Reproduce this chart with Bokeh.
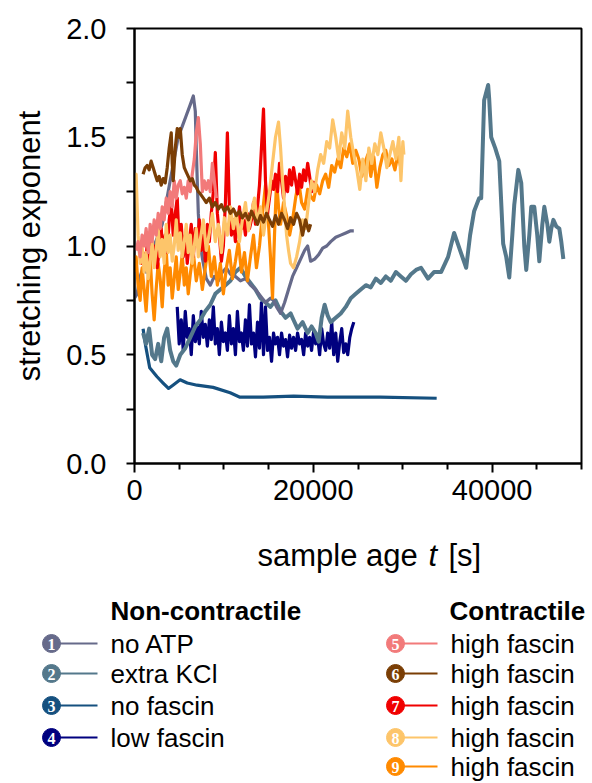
from bokeh.plotting import figure
from bokeh.layouts import column
from bokeh.models import Range1d, FixedTicker, PrintfTickFormatter
from bokeh.core.properties import value
from bokeh.embed import file_html
from bokeh.resources import INLINE

FONT = "Liberation Sans"

# ---------------- data: (sample age t [s], stretching exponent) ----------------
NO_ATP = [(0, 0.76), (290, 0.78), (630, 0.86), (960, 0.90), (1300, 0.88), (1750, 0.95), (2200, 1.00),
          (2650, 1.05), (3100, 1.10), (3550, 1.20), (3990, 1.30), (4440, 1.40), (4890, 1.50), (5340, 1.55),
          (5790, 1.60), (6240, 1.65), (6580, 1.69), (6800, 1.62), (6910, 1.45), (7020, 1.30), (7140, 1.15),
          (7360, 1.00), (7700, 0.92), (8030, 0.85), (8480, 0.82), (8930, 0.86), (9380, 0.84), (9830, 0.88),
          (10280, 0.90), (10730, 0.87), (11290, 0.86), (11850, 0.84), (12410, 0.85), (12970, 0.82),
          (13530, 0.80), (14090, 0.77), (14650, 0.74), (15210, 0.76), (15550, 0.75), (15890, 0.72),
          (16340, 0.69), (16790, 0.74), (17230, 0.80), (17680, 0.86), (18130, 0.90), (18580, 0.94),
          (19030, 0.98), (19370, 1.00), (19700, 0.93), (20150, 0.94), (20600, 0.96), (21050, 0.99),
          (21500, 1.00), (21950, 1.02), (22510, 1.04), (23070, 1.05), (23630, 1.06), (24190, 1.07), (24530, 1.07)]

EXTRA_KCL = [(960, 0.60), (1300, 0.55), (1640, 0.62), (1970, 0.50), (2310, 0.48), (2650, 0.55), (2990, 0.47),
             (3320, 0.58), (3660, 0.62), (3990, 0.52), (4330, 0.47), (4670, 0.45), (5120, 0.50), (5680, 0.53),
             (6240, 0.58), (6800, 0.63), (7360, 0.66), (7920, 0.70), (8480, 0.73), (9040, 0.78), (9600, 0.80),
             (10170, 0.82), (10730, 0.84), (11290, 0.88), (11850, 0.90), (12410, 0.86), (12970, 0.83),
             (13530, 0.80), (14090, 0.76), (14650, 0.74), (15210, 0.72), (15770, 0.75), (16340, 0.70),
             (16900, 0.67), (17460, 0.69), (17790, 0.66), (18240, 0.62), (18800, 0.65), (19370, 0.60),
             (19810, 0.63), (20260, 0.60), (20600, 0.56), (20940, 0.67), (21270, 0.73), (21610, 0.68),
             (21950, 0.65), (22510, 0.67), (23070, 0.69), (23630, 0.72), (24190, 0.76), (24750, 0.78),
             (25310, 0.80), (25880, 0.82), (26430, 0.81), (26990, 0.85), (27550, 0.83), (28110, 0.86),
             (28670, 0.84), (29240, 0.88), (29800, 0.86), (30360, 0.84), (30920, 0.87), (31490, 0.89),
             (32050, 0.90), (32830, 0.85), (33500, 0.88), (34290, 0.88), (35080, 0.95), (35750, 1.06),
             (36420, 0.98), (37100, 0.90), (37540, 1.05), (37990, 1.16), (38550, 1.22), (38780, 1.22),
             (39110, 1.67), (39560, 1.74), (39670, 1.68), (39900, 1.50), (40350, 1.45), (40800, 1.39),
             (41240, 1.01), (41580, 0.95), (41920, 0.855), (42260, 1.05), (42480, 1.19), (42930, 1.35),
             (43260, 1.29), (43600, 1.00), (43820, 0.89), (44160, 1.05), (44380, 1.18), (44720, 1.18),
             (45050, 1.05), (45280, 0.93), (45620, 1.10), (45840, 1.18), (46180, 1.10), (46400, 1.02),
             (46620, 1.08), (46850, 1.12), (47180, 1.09), (47520, 1.08), (47740, 1.02), (47970, 0.94)]

NO_FASCIN = [(960, 0.62), (1100, 0.58), (1250, 0.54), (1700, 0.44), (2500, 0.40), (3200, 0.37), (3800, 0.345),
             (4300, 0.36), (5100, 0.385), (5900, 0.37), (7000, 0.36), (8800, 0.35), (10700, 0.325),
             (11800, 0.305), (14400, 0.305), (17800, 0.31), (21600, 0.305), (27500, 0.305), (33800, 0.30)]

LOW_FASCIN = [(4780, 0.72), (5000, 0.55), (5230, 0.66), (5450, 0.52), (5680, 0.70), (5900, 0.58), (6130, 0.62),
              (6350, 0.50), (6580, 0.68), (6800, 0.56), (7020, 0.63), (7250, 0.55), (7470, 0.70), (7700, 0.58),
              (7920, 0.64), (8150, 0.54), (8370, 0.66), (8590, 0.57), (8820, 0.72), (9040, 0.55), (9270, 0.62),
              (9490, 0.50), (9720, 0.65), (9940, 0.56), (10170, 0.60), (10390, 0.52), (10610, 0.68),
              (10840, 0.55), (11060, 0.62), (11290, 0.50), (11510, 0.70), (11740, 0.56), (11960, 0.60),
              (12180, 0.52), (12410, 0.66), (12630, 0.54), (12860, 0.73), (13080, 0.55), (13310, 0.60),
              (13530, 0.49), (13760, 0.65), (13980, 0.53), (14200, 0.74), (14430, 0.50), (14650, 0.72),
              (14880, 0.52), (15100, 0.58), (15330, 0.47), (15550, 0.60), (15770, 0.55), (16000, 0.58),
              (16220, 0.50), (16450, 0.60), (16670, 0.54), (16900, 0.57), (17120, 0.49), (17350, 0.59),
              (17570, 0.53), (17790, 0.58), (18020, 0.52), (18240, 0.60), (18470, 0.55), (18690, 0.57),
              (18920, 0.50), (19140, 0.60), (19370, 0.54), (19590, 0.58), (19810, 0.52), (20040, 0.61),
              (20260, 0.55), (20490, 0.58), (20710, 0.50), (20940, 0.62), (21160, 0.55), (21380, 0.52),
              (21610, 0.60), (21830, 0.53), (22060, 0.65), (22280, 0.50), (22510, 0.60), (22730, 0.47),
              (22960, 0.56), (23180, 0.62), (23400, 0.51), (23630, 0.55), (23850, 0.50), (24080, 0.58),
              (24300, 0.62), (24530, 0.65)]

HIGH_FASCIN_5 = [(180, 0.98), (400, 1.02), (630, 0.95), (850, 1.05), (1080, 1.00), (1300, 1.08), (1530, 0.97),
                 (1750, 1.10), (1970, 1.02), (2200, 1.12), (2420, 1.05), (2650, 1.15), (2870, 1.08), (3100, 1.18),
                 (3320, 1.12), (3550, 1.22), (3770, 1.15), (3990, 1.25), (4220, 1.18), (4440, 1.30), (4670, 1.22),
                 (4890, 1.28), (5120, 1.30), (5340, 1.24), (5570, 1.27), (5790, 1.22), (6010, 1.30), (6240, 1.25),
                 (6460, 1.33), (6690, 1.40), (6910, 1.52), (7140, 1.59), (7360, 1.47), (7590, 1.25), (7810, 1.30),
                 (8030, 1.26), (8260, 1.30), (8480, 1.25), (8710, 1.38), (8930, 1.30), (9160, 1.22)]

HIGH_FASCIN_6 = [(960, 1.33), (1190, 1.36), (1410, 1.37), (1640, 1.35), (1860, 1.39), (2090, 1.36), (2310, 1.33),
                 (2540, 1.30), (2760, 1.32), (2990, 1.28), (3210, 1.31), (3430, 1.29), (3660, 1.36), (3880, 1.45),
                 (4110, 1.52), (4220, 1.38), (4330, 1.30), (4560, 1.45), (4780, 1.54), (5000, 1.50), (5120, 1.54),
                 (5340, 1.42), (5570, 1.36), (5790, 1.34), (6010, 1.32), (6240, 1.30), (6460, 1.31), (6690, 1.28),
                 (6910, 1.27), (7140, 1.25), (7360, 1.24), (7700, 1.22), (8030, 1.20), (8370, 1.22), (8710, 1.18),
                 (9040, 1.20), (9380, 1.17), (9720, 1.19), (10050, 1.16), (10390, 1.18), (10730, 1.15),
                 (11060, 1.17), (11400, 1.14), (11740, 1.16), (12070, 1.13), (12410, 1.15), (12750, 1.12),
                 (13080, 1.16), (13420, 1.13), (13760, 1.10), (14090, 1.14), (14430, 1.11), (14760, 1.15),
                 (15100, 1.12), (15440, 1.09), (15770, 1.14), (16110, 1.10), (16450, 1.15), (16790, 1.12),
                 (17120, 1.08), (17460, 1.13), (17790, 1.10), (18130, 1.15), (18470, 1.12), (18800, 1.05),
                 (19140, 1.12), (19480, 1.07), (19700, 1.10)]

HIGH_FASCIN_7 = [(290, 0.98), (520, 1.02), (740, 0.92), (960, 0.97), (1190, 0.90), (1410, 1.00), (1640, 0.93),
                 (1860, 1.05), (2090, 0.95), (2310, 1.00), (2540, 0.90), (2760, 0.98), (2990, 1.08), (3210, 0.96),
                 (3430, 1.05), (3660, 0.97), (3880, 1.12), (4110, 1.20), (4330, 1.05), (4560, 1.15), (4780, 1.22),
                 (5000, 1.00), (5230, 1.10), (5450, 0.95), (5680, 1.05), (5900, 0.92), (6130, 1.02), (6350, 1.10),
                 (6580, 0.95), (6800, 1.08), (7020, 1.00), (7250, 1.12), (7470, 0.98), (7700, 1.05), (7920, 0.93),
                 (8150, 1.10), (8370, 1.02), (8590, 1.15), (8820, 1.25), (9040, 1.43), (9270, 1.15), (9490, 1.05),
                 (9720, 0.93), (9940, 1.00), (10170, 1.20), (10390, 1.52), (10610, 1.18), (10840, 1.05),
                 (11060, 1.12), (11290, 1.02), (11510, 1.10), (11740, 1.18), (11960, 1.08), (12180, 1.12),
                 (12410, 1.05), (12630, 1.15), (12860, 1.08), (13080, 1.12), (13310, 1.20), (13530, 1.10),
                 (13760, 1.18), (13980, 1.28), (14200, 1.45), (14430, 1.63), (14650, 1.30), (14880, 1.15),
                 (15100, 1.22), (15330, 1.30), (15550, 1.26), (15770, 1.33), (16000, 1.25), (16220, 1.38),
                 (16450, 1.30), (16670, 1.22), (16900, 1.32), (17120, 1.25), (17350, 1.35), (17570, 1.28),
                 (17790, 1.36), (18020, 1.30), (18240, 1.24), (18470, 1.33), (18690, 1.27), (18920, 1.35),
                 (19140, 1.30), (19370, 1.38), (19590, 1.32), (19810, 1.25), (20040, 1.30)]

HIGH_FASCIN_8 = [(0, 1.30), (180, 1.33), (400, 1.05), (630, 0.92), (850, 1.00), (1080, 0.88), (1300, 0.97),
                 (1530, 0.85), (1750, 0.93), (1970, 1.02), (2200, 0.90), (2420, 0.98), (2650, 1.08), (2870, 0.95),
                 (3100, 1.03), (3320, 0.92), (3550, 1.10), (3770, 0.97), (3990, 1.05), (4220, 0.93), (4440, 1.00),
                 (4670, 1.12), (4890, 0.98), (5120, 1.06), (5340, 0.95), (5570, 1.02), (5790, 1.10), (6010, 0.97),
                 (6240, 1.05), (6460, 0.92), (6690, 1.00), (6910, 1.08), (7140, 0.95), (7360, 1.03), (7700, 1.12),
                 (8030, 0.98), (8370, 1.06), (8710, 1.15), (9040, 1.02), (9380, 1.10), (9720, 0.97), (10050, 1.13),
                 (10390, 1.05), (10730, 1.18), (11060, 1.08), (11400, 1.15), (11740, 1.02), (12070, 1.12),
                 (12410, 1.20), (12750, 1.07), (13080, 1.15), (13420, 1.22), (13760, 1.10), (14090, 1.18),
                 (14430, 1.05), (14760, 1.15), (15100, 1.25), (15440, 1.38), (15770, 1.50), (16110, 1.57),
                 (16340, 1.45), (16560, 1.30), (16790, 1.18), (17010, 1.05), (17230, 0.98), (17460, 0.92),
                 (17790, 0.90), (18130, 0.95), (18470, 1.02), (18800, 1.12), (19140, 1.08), (19480, 1.20),
                 (19810, 1.30), (20150, 1.25), (20490, 1.35), (20820, 1.42), (21160, 1.38), (21500, 1.48),
                 (21830, 1.45), (22170, 1.58), (22510, 1.50), (22840, 1.40), (23180, 1.52), (23520, 1.45),
                 (23850, 1.62), (24190, 1.50), (24530, 1.42), (24870, 1.35), (25200, 1.26), (25540, 1.40),
                 (25880, 1.30), (26210, 1.45), (26550, 1.38), (26880, 1.47), (27220, 1.42), (27550, 1.52),
                 (27890, 1.45), (28230, 1.36), (28560, 1.42), (28900, 1.48), (29240, 1.40), (29570, 1.50),
                 (29800, 1.30), (30020, 1.48), (30130, 1.42)]

HIGH_FASCIN_9 = [(0, 0.88), (180, 0.95), (400, 0.82), (630, 0.75), (850, 0.90), (1080, 0.80), (1300, 0.70),
                 (1530, 0.85), (1750, 0.95), (1970, 0.78), (2200, 0.66), (2420, 0.80), (2650, 0.92), (2870, 0.85),
                 (3100, 0.72), (3320, 0.88), (3550, 0.98), (3770, 0.82), (3990, 0.90), (4220, 0.76), (4440, 0.85),
                 (4670, 0.95), (4890, 0.80), (5120, 0.88), (5340, 0.96), (5570, 0.82), (5790, 0.90), (6010, 0.78),
                 (6240, 0.87), (6580, 0.97), (6910, 0.84), (7250, 0.92), (7590, 0.80), (7920, 0.90), (8260, 1.00),
                 (8590, 0.86), (8930, 0.95), (9270, 0.82), (9600, 0.92), (9940, 0.78), (10280, 0.90), (10610, 0.98),
                 (10950, 0.85), (11290, 0.93), (11620, 1.02), (11960, 0.88), (12300, 0.97), (12630, 0.84),
                 (12970, 0.95), (13310, 1.05), (13640, 0.90), (13980, 1.00), (14320, 1.15), (14650, 1.28),
                 (14990, 1.10), (15210, 0.95), (15440, 0.76), (15660, 1.05), (15890, 1.30), (16110, 1.18),
                 (16340, 1.10), (16670, 1.20), (17010, 1.14), (17350, 1.05), (17680, 1.12), (18020, 1.22),
                 (18360, 1.30), (18690, 1.20), (19030, 1.17), (19370, 1.26), (19700, 1.23), (20040, 1.21),
                 (20370, 1.28), (20710, 1.24), (21050, 1.30), (21380, 1.33), (21720, 1.27), (22060, 1.37),
                 (22390, 1.34), (22730, 1.40), (23070, 1.36), (23400, 1.45), (23740, 1.41), (24080, 1.47),
                 (24410, 1.38), (24750, 1.44), (25090, 1.40), (25430, 1.32), (25760, 1.38), (26100, 1.42),
                 (26430, 1.32), (26770, 1.41), (27110, 1.27), (27440, 1.36), (27780, 1.42), (28110, 1.44),
                 (28450, 1.37), (28790, 1.40), (29130, 1.35), (29460, 1.42), (29800, 1.36)]

X_TICKS = [0, 20000, 40000]
X_MINOR = [5000, 10000, 15000, 25000, 30000, 35000, 45000, 50000]
Y_TICKS = [0.0, 0.5, 1.0, 1.5, 2.0]
Y_MINOR = [0.25, 0.75, 1.25, 1.75]

LEFT_LABELS = ["no ATP", "extra KCl", "no fascin", "low fascin"]
LEFT_NUMS = ["1", "2", "3", "4"]
LEFT_COLORS = ["#666a8a", "#54788b", "#15507f", "#00007f"]
RIGHT_LABELS = ["high fascin", "high fascin", "high fascin", "high fascin", "high fascin"]
RIGHT_NUMS = ["5", "6", "7", "8", "9"]
RIGHT_COLORS = ["#f27a7a", "#7a3e05", "#f00000", "#fdc56a", "#ff8a00"]

# ---------------- main plot ----------------
p = figure(width=592, height=515, output_backend="svg", toolbar_location=None,
           x_range=Range1d(0, 50000), y_range=Range1d(0, 2.0),
           min_border_left=134, min_border_right=11, min_border_top=28, min_border_bottom=52)
p.frame_align = False
p.xgrid.visible = False
p.ygrid.visible = False
p.outline_line_color = "black"
p.outline_line_width = 2
p.background_fill_color = "white"
p.border_fill_color = "white"

series = [
    (LOW_FASCIN, LEFT_COLORS[3], 3.2),
    (NO_FASCIN, LEFT_COLORS[2], 3.2),
    (EXTRA_KCL, LEFT_COLORS[1], 4),
    (NO_ATP, LEFT_COLORS[0], 3.2),
    (HIGH_FASCIN_9, RIGHT_COLORS[4], 3.2),
    (HIGH_FASCIN_7, RIGHT_COLORS[2], 3.2),
    (HIGH_FASCIN_8, RIGHT_COLORS[3], 3.2),
    (HIGH_FASCIN_5, RIGHT_COLORS[0], 3.2),
    (HIGH_FASCIN_6, RIGHT_COLORS[1], 3.2),
]
for data, col, w in series:
    xs = [d[0] for d in data]
    ys = [d[1] for d in data]
    p.line(xs, ys, line_color=col, line_width=w, line_join="round")

for ax in (p.xaxis[0], p.yaxis[0]):
    ax.axis_line_color = "black"
    ax.axis_line_width = 2
    ax.major_tick_line_color = "black"
    ax.major_tick_line_width = 2
    ax.minor_tick_line_color = "black"
    ax.minor_tick_line_width = 2
    ax.major_tick_in = 0
    ax.minor_tick_in = 0
    ax.major_label_text_font = FONT
    ax.major_label_text_font_size = "29px"
    ax.major_label_text_color = "black"

p.xaxis.ticker = FixedTicker(ticks=X_TICKS, minor_ticks=X_MINOR)
p.yaxis.ticker = FixedTicker(ticks=Y_TICKS, minor_ticks=Y_MINOR)
p.xaxis.formatter = PrintfTickFormatter(format="%d")
p.yaxis.formatter = PrintfTickFormatter(format="%.1f")
p.xaxis.major_tick_out = 9
p.xaxis.minor_tick_out = 6
p.yaxis.major_tick_out = 8
p.yaxis.minor_tick_out = 8
p.xaxis.major_label_standoff = 7
p.yaxis.major_label_standoff = 20
p.yaxis.axis_label = "stretching exponent"
p.yaxis.axis_label_text_font = FONT
p.yaxis.axis_label_text_font_size = "31px"
p.yaxis.axis_label_text_font_style = "normal"
p.yaxis.axis_label_text_color = "black"
p.yaxis.axis_label_standoff = 16

# ---------------- x label + legend (pixel coordinate panel) ----------------
q = figure(width=592, height=268, output_backend="svg", toolbar_location=None,
           x_range=Range1d(0, 592), y_range=Range1d(268, 0),
           x_axis_type=None, y_axis_type=None, min_border=0)
q.frame_align = False
q.outline_line_color = None
q.xgrid.visible = False
q.ygrid.visible = False

lab = dict(text_font=value(FONT), text_font_size="31px", text_color="black",
           text_baseline="alphabetic", text_align="left")
q.text(x=[257], y=[40], text=["sample age"], **lab)
q.text(x=[428], y=[40], text=["t"], text_font_style="italic", **lab)
q.text(x=[448], y=[40], text=["[s]"], **lab)

hdr = dict(text_font=value(FONT), text_font_size="26px", text_color="black",
           text_font_style="bold", text_baseline="alphabetic", text_align="left")
q.text(x=[110], y=[95], text=["Non-contractile"], **hdr)
q.text(x=[449], y=[95], text=["Contractile"], **hdr)

ROW_Y = [128, 158, 190, 222, 251]


def legend_column(cx, x0, x1, tx, labels, nums, colors):
    ys = ROW_Y[:len(labels)]
    q.segment(x0=[x0] * len(ys), y0=ys, x1=[x1] * len(ys), y1=ys, line_color=colors, line_width=2)
    q.scatter(x=[cx] * len(ys), y=ys, size=18, marker="circle", fill_color=colors, line_color=colors)
    q.text(x=[cx] * len(ys), y=[y + 1 for y in ys], text=nums, text_font=value("Liberation Serif"),
           text_font_size="16px", text_font_style="bold", text_color="white",
           text_align="center", text_baseline="middle")
    q.text(x=[tx] * len(ys), y=ys, text=labels, text_font=value(FONT), text_font_size="26px",
           text_color="black", text_align="left", text_baseline="middle")


legend_column(51, 57, 97, 110, LEFT_LABELS, LEFT_NUMS, LEFT_COLORS)
legend_column(395, 403, 437, 450, RIGHT_LABELS, RIGHT_NUMS, RIGHT_COLORS)

layout = column(p, q, spacing=0)
open("out.html", "w").write(file_html(layout, INLINE))
